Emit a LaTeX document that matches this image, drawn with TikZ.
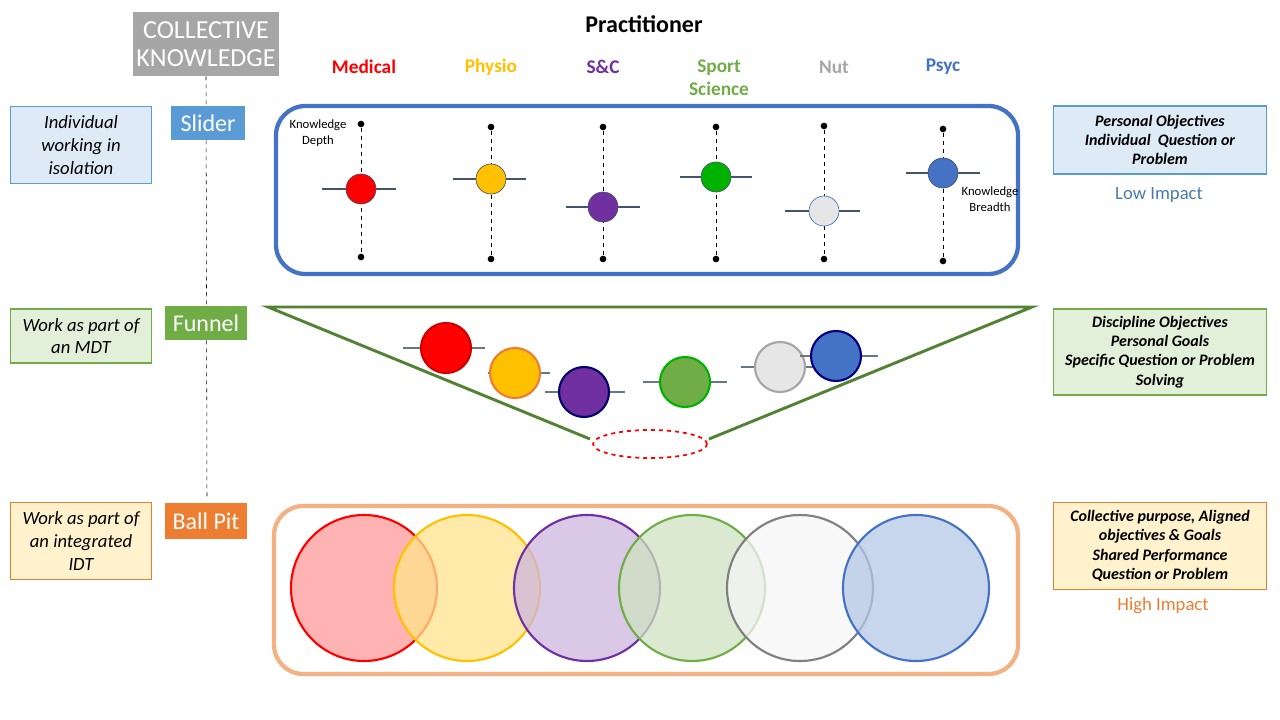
\documentclass[tikz,border=0pt]{standalone}
\usepackage{fontspec}
\setmainfont{Carlito}
\usetikzlibrary{shapes.geometric}
\definecolor{cblue}{HTML}{4472C4}
\definecolor{lblue}{HTML}{5B9BD5}
\definecolor{cgreen}{HTML}{70AD47}
\definecolor{dgreen}{HTML}{548235}
\definecolor{corange}{HTML}{ED7D31}
\definecolor{cgold}{HTML}{FFC000}
\definecolor{cpurple}{HTML}{7030A0}
\definecolor{cgray}{HTML}{A6A6A6}
\definecolor{lgray}{HTML}{E7E6E6}
\definecolor{fblue}{HTML}{DEEBF7}
\definecolor{fgreen}{HTML}{E2F0D9}
\definecolor{fyell}{HTML}{FFF2CC}
\definecolor{porange}{HTML}{F4B183}
\definecolor{slate}{HTML}{44546A}
\tikzset{
 x=0.75pt,y=-0.75pt,
 tag/.style={fill=#1,text=white,font=\fontsize{18}{21}\selectfont,inner sep=0pt,minimum width=62pt},
 lbox/.style={draw=#1,line width=0.8pt,minimum width=106pt,align=center,font=\itshape\fontsize{14}{17}\selectfont,inner sep=2pt},
 rbox/.style={draw=#1,line width=0.8pt,minimum width=160pt,align=center,font=\bfseries\itshape\fontsize{12}{14.5}\selectfont,inner sep=2pt},
 disc/.style={font=\bfseries\fontsize{14.5}{17}\selectfont,text=#1,align=center},
 dot/.style={circle,fill=black,inner sep=0pt,minimum size=5pt},
 bar/.style={draw=slate,line width=1.6pt},
 knob/.style 2 args={circle,draw=#2,fill=#1,minimum size=22.5pt,inner sep=0pt,line width=0.5pt},
 fknob/.style 2 args={circle,draw=#2,fill=#1,minimum size=37.5pt,inner sep=0pt,line width=1.6pt},
 big/.style 2 args={circle,draw=#2,fill=#1,fill opacity=0.75,minimum size=109.5pt,inner sep=0pt,line width=1.6pt},
}
\begin{document}
\begin{tikzpicture}
\useasboundingbox (0,0) rectangle (1280,720);
\node[fill=cgray,text=white,minimum width=110pt,minimum height=48pt,align=center,inner sep=0pt,font=\fontsize{19.5}{21.5}\selectfont] (ck) at (206,44) {COLLECTIVE\\KNOWLEDGE};
\coordinate (dl) at (207,500);
\draw[dashed] (ck.south) -- (dl);
\node[tag=lblue,minimum width=55.5pt,minimum height=26pt] (sl) at (208,123) {Slider};
\node[tag=cgreen,minimum height=25.5pt] (fu) at (206,323) {Funnel};
\node[tag=corange,minimum height=27pt] (bp) at (206,521) {Ball Pit};
\node[lbox=lblue,fill=fblue,minimum height=58pt] (l1) at (81,145) {Individual\\working in\\isolation};
\node[lbox=cgreen,fill=fgreen,minimum height=40.5pt] (l2) at (81,336) {Work as part of\\an MDT};
\node[lbox=corange,fill=fyell,minimum height=58pt] (l3) at (81,541) {Work as part of\\an integrated\\IDT};
\node[font=\bfseries\fontsize{18}{21}\selectfont] (pr) at (644,24) {Practitioner};
\node[disc=red] (d1) at (364,67) {Medical};
\node[disc=cgold] (d2) at (491,67) {Physio};
\node[disc=cpurple] (d3) at (603,67) {S\&C};
\node[disc=cgreen] (d4) at (719,78) {Sport\\Science};
\node[disc=cgray] (d5) at (834,67) {Nut};
\node[disc=cblue] (d6) at (943,67) {Psyc};
% slider box
\draw[cblue,line width=3.2pt,rounded corners=22pt] (276,106) rectangle (1018,274);
\foreach \n/\x/\t/\b/\c/\l/\r/\f/\d in {a/361/124/257/189/322/396/red/slate,b/491/127/259/179/453/526/cgold/slate,c/603/127/259/207/566/640/cpurple/slate,d/716/127/259/177/680/752/green!70!black/slate,e/824/126/259/211/785/860/lgray/cblue,f/943/129/261/173/906/980/cblue/slate}{
 \node[dot] (t\n) at (\x,\t) {};
 \node[dot] (b\n) at (\x,\b) {};
 \draw[dashed] (t\n) -- (b\n);
 \coordinate (hl\n) at (\l,\c); \coordinate (hr\n) at (\r,\c);
 \draw[bar] (hl\n) -- (hr\n);
 \node[knob={\f}{\d}] (k\n) at (\x,\c) {};
}
\node[font=\fontsize{9.5}{12}\selectfont,align=center] (kd) at (318,133) {Knowledge\\Depth};
\node[font=\fontsize{9.5}{12}\selectfont,align=center] (kb) at (990,199) {Knowledge\\Breadth};
% funnel
\coordinate (f1) at (590,439); \coordinate (f2) at (268,307); \coordinate (f3) at (1032,307); \coordinate (f4) at (709,439);
\draw[dgreen,line width=2.2pt] (f1) -- (f2) -- (f3) -- (f4);
\node[ellipse,draw=red,dashed,line width=1.3pt,minimum width=85.5pt,minimum height=21pt] (el) at (650,444) {};
\foreach \n/\x/\y/\l/\r/\f/\d in {a/446/348/403/485/red/red!80!black,b/515/373/488/550/cgold/corange,c/584/392/545/625/cpurple/blue!40!black,d/685/382/643/727/cgreen/green!70!black,e/780/367/741/820/lgray/cgray,f/836/356/800/878/cblue/blue!50!black}{
 \coordinate (gl\n) at (\l,\y); \coordinate (gr\n) at (\r,\y);
 \draw[bar,draw=slate!80] (gl\n) -- (gr\n);
 \node[fknob={\f}{\d}] (g\n) at (\x,\y) {};
}
% ball pit
\draw[porange,line width=3.2pt,rounded corners=22pt] (274,506) rectangle (1018,674);
\node[big={red!40}{red}] (ba) at (364,588) {};
\node[big={cgold!45}{cgold}] (bb) at (467,588) {};
\node[big={cpurple!35}{cpurple}] (bc) at (587,588) {};
\node[big={cgreen!35}{cgreen}] (bd) at (692,588) {};
\node[big={gray!8}{gray}] (be) at (800,588) {};
\node[big={cblue!40}{cblue}] (bf) at (916,588) {};
% right
\node[rbox=lblue,fill=fblue,minimum height=51pt] (r1) at (1160,140) {Personal Objectives\\Individual\ \ Question or\\Problem};
\node[text=lblue!80!black,font=\fontsize{14}{17}\selectfont] (lo) at (1159,195) {Low Impact};
\node[rbox=cgreen,fill=fgreen,minimum height=64.5pt] (r2) at (1160,352) {Discipline Objectives\\Personal Goals\\Specific Question or Problem\\Solving};
\node[rbox=corange,fill=fyell,minimum height=65pt] (r3) at (1160,546) {Collective purpose, Aligned\\objectives \& Goals\\Shared Performance\\Question or Problem};
\node[text=corange,font=\fontsize{14}{17}\selectfont] (hi) at (1163,606) {High Impact};
\end{tikzpicture}
\end{document}
